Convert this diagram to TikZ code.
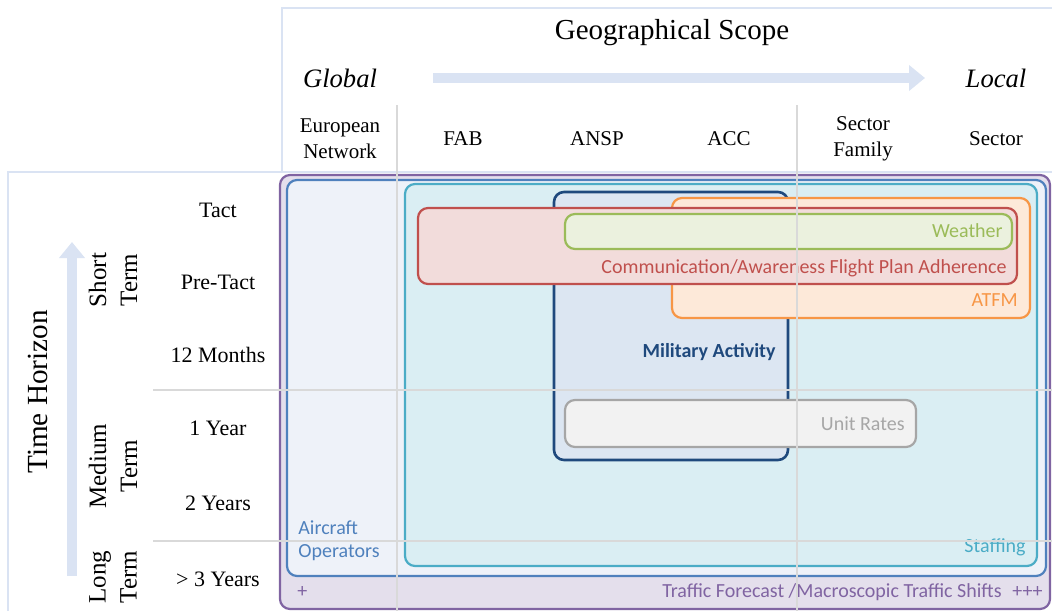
\documentclass[tikz,border=0pt]{standalone}
\usepackage{fontspec}
\setmainfont{Liberation Serif}
\newfontfamily\calibri{Carlito}
\usetikzlibrary{arrows.meta}

\definecolor{frameL}{HTML}{DAE3F3}
\definecolor{gridL}{HTML}{D9D9D9}
\definecolor{purpleD}{HTML}{8064A2}
\definecolor{purpleL}{HTML}{E4DFEC}
\definecolor{blueD}{HTML}{4F81BD}
\definecolor{blueL}{HTML}{EEF2F9}
\definecolor{tealD}{HTML}{4BACC6}
\definecolor{tealL}{HTML}{DAEEF3}
\definecolor{navyD}{HTML}{1F497D}
\definecolor{navyL}{HTML}{DCE6F2}
\definecolor{orangeD}{HTML}{F79646}
\definecolor{orangeL}{HTML}{FDE9D9}
\definecolor{redD}{HTML}{C0504D}
\definecolor{redL}{HTML}{F2DCDB}
\definecolor{greenD}{HTML}{9BBB59}
\definecolor{greenL}{HTML}{EBF1DE}
\definecolor{grayD}{HTML}{A6A6A6}
\definecolor{grayL}{HTML}{F2F2F2}

\tikzset{
	zone/.style={draw=#1D, fill=#1L, line width=1.1pt, rounded corners=5pt},
	zonelabel/.style={font=\calibri\fontsize{10}{11.5}\selectfont, text=#1D, inner sep=0pt},
	gridline/.style={gridL, line width=0.6pt},
	frameline/.style={frameL, line width=1pt},
	scopearrow/.style={frameL, line width=5pt, -{Triangle[length=8pt, width=12.5pt]}},
	collabel/.style={font=\fontsize{10.5}{12.8}\selectfont, align=center, inner sep=0pt},
	rowlabel/.style={font=\fontsize{11}{13}\selectfont, inner sep=0pt},
	termlabel/.style={font=\fontsize{12.5}{15.5}\selectfont, align=center, rotate=90, inner sep=0pt}
}

\begin{document}
\begin{tikzpicture}[x=0.5pt, y=-0.5pt]
	\useasboundingbox (0,0) rectangle (1052,611);

	% Frame of the header and of the time axis
	\draw[frameline] (282,172) -- (282,8) -- (1052,8);
	\draw[frameline] (8,611) -- (8,172) -- (1052,172);

	% Nested scopes, from the widest to the smallest
	\draw[zone=purple] (280,175) rectangle (1050,609);
	\draw[zone=blue] (287,180) rectangle (1046,576);
	\draw[zone=teal] (405,184) rectangle (1037,566);
	\draw[zone=navy, line width=1.3pt] (554,192) rectangle (788,460);
	\draw[zone=orange] (672,198) rectangle (1030,318);
	\draw[zone=red] (418,208) rectangle (1017,284);
	\draw[zone=green] (565,214) rectangle (1012,249);
	\draw[zone=gray] (565,400) rectangle (916,447);

	% Labels of the scopes
	\node[zonelabel=purple, anchor=west] (plus) at (297,592) {+};
	\node[zonelabel=purple, anchor=east] (traffic) at (1002,592) {Traffic Forecast /Macroscopic Traffic Shifts};
	\node[zonelabel=purple, anchor=east] (plusplus) at (1043,592) {+++};
	\node[zonelabel=blue, anchor=west, align=left] (aircraft) at (298,541) {Aircraft\\Operators};
	\node[zonelabel=teal, anchor=east] (staffing) at (1026,547) {Staffing};
	\node[zonelabel=navy, anchor=east, font=\calibri\bfseries\fontsize{10}{12}\selectfont] (military) at (776,352) {Military Activity};
	\node[zonelabel=orange, anchor=east] (atfm) at (1018,300) {ATFM};
	\node[zonelabel=red, anchor=east] (comm) at (1007,268) {Communication/Awareness Flight Plan Adherence};
	\node[zonelabel=green, anchor=east] (weather) at (1003,231) {Weather};
	\node[zonelabel=gray, anchor=east] (unitrates) at (905,424) {Unit Rates};

	% Grid lines lie over the scopes
	\draw[gridline] (397,105) -- (397,611);
	\draw[gridline] (797,105) -- (797,611);
	\draw[gridline] (153,390) -- (1052,390);
	\draw[gridline] (153,541) -- (1052,541);

	% Geographical scope
	\node[font=\fontsize{14.5}{17}\selectfont] (geo) at (672,33) {Geographical Scope};
	\coordinate (geo start) at (433,78);
	\coordinate (geo end) at (925,78);
	\draw[scopearrow] (geo start) -- (geo end);
	\node[font=\itshape\fontsize{13.3}{16}\selectfont] (global) at (340,78) {Global};
	\node[font=\itshape\fontsize{13.3}{16}\selectfont] (local) at (996,78) {Local};

	\node[collabel] (europe) at (340,139) {European\\Network};
	\node[collabel] (fab) at (463,139) {FAB};
	\node[collabel] (ansp) at (597,139) {ANSP};
	\node[collabel] (acc) at (729,139) {ACC};
	\node[collabel] (secfam) at (863,139) {Sector\\Family};
	\node[collabel] (sector) at (996,139) {Sector};

	% Time horizon
	\node[font=\fontsize{14.6}{17}\selectfont, rotate=90] (time) at (38,392) {Time Horizon};
	\coordinate (time start) at (72,576);
	\coordinate (time end) at (72,242);
	\draw[scopearrow] (time start) -- (time end);
	\node[termlabel] (short) at (113,280) {Short\\Term};
	\node[termlabel] (medium) at (113,466) {Medium\\Term};
	\node[termlabel] (long) at (113,577) {Long\\Term};

	\node[rowlabel] (tact) at (218,210) {Tact};
	\node[rowlabel] (pretact) at (218,282) {Pre-Tact};
	\node[rowlabel] (months) at (218,355) {12 Months};
	\node[rowlabel] (oneyear) at (218,428) {1 Year};
	\node[rowlabel] (twoyears) at (218,503) {2 Years};
	\node[rowlabel] (threeyears) at (218,579) {> 3 Years};
\end{tikzpicture}
\end{document}
